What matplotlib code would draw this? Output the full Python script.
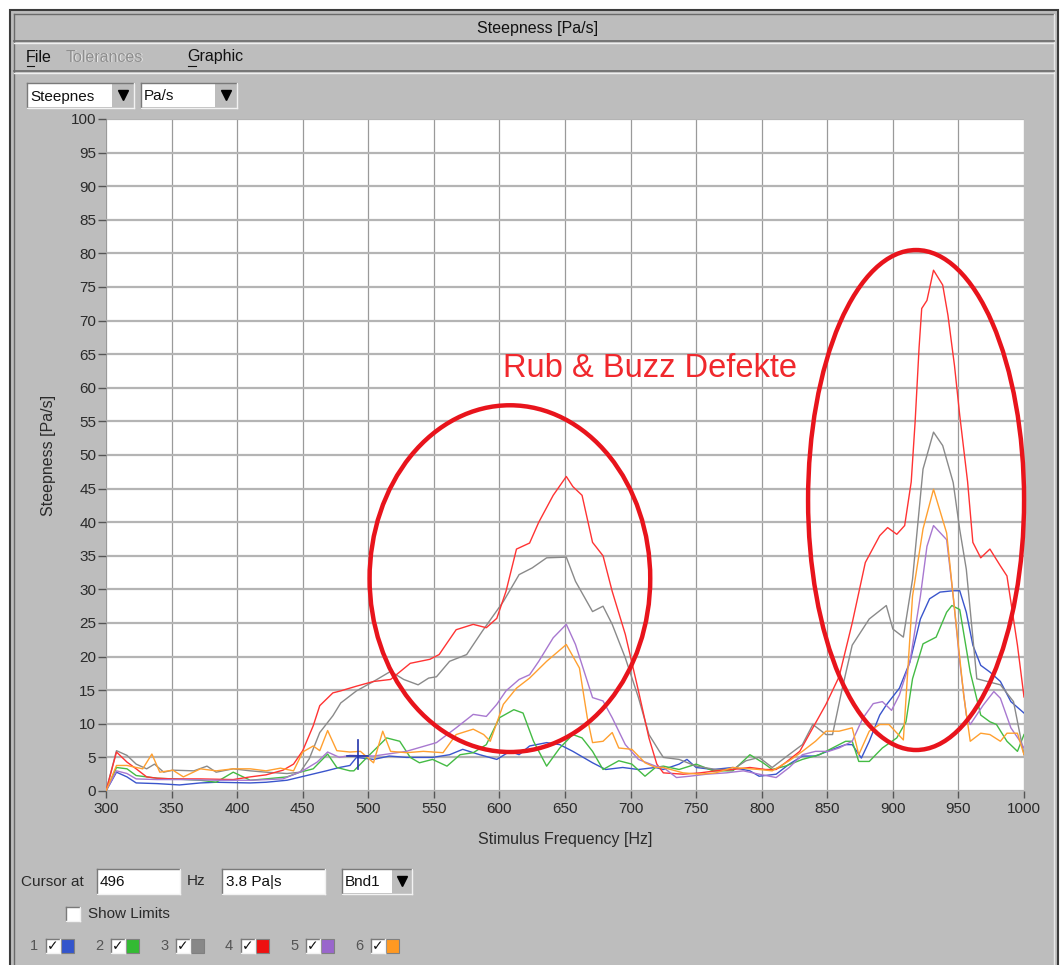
import matplotlib
matplotlib.use('Agg')
import matplotlib.pyplot as plt
from matplotlib.patches import Rectangle, Ellipse
from matplotlib import font_manager
import numpy as np

# Messkurven (Frequenz [Hz], Steepness [Pa/s])
band1_blue = np.array([(300, 0), (308, 2.8), (316, 2.1), (323, 1.2), (339, 1.1), (356, 0.9), (372, 1.2),
    (384, 1.3), (410, 1.2), (422, 1.3), (438, 1.6), (453, 2.3), (468, 3.0), (478, 3.5), (486, 3.8),
    (491, 5.0), (504, 4.7), (516, 5.2), (529, 5.0), (549, 5.0), (562, 5.4), (572, 6.2), (585, 5.4),
    (598, 4.7), (608, 5.9), (615, 5.4), (623, 6.7), (636, 7.2), (646, 6.9), (656, 5.9), (671, 4.2),
    (681, 3.2), (694, 3.5), (706, 3.2), (719, 3.5), (725, 3.2), (737, 4.0), (743, 4.7), (750, 3.5),
    (763, 3.2), (778, 3.5), (791, 3.0), (798, 2.2), (811, 2.5), (821, 4.0), (831, 5.2), (841, 5.2),
    (854, 6.2), (864, 6.9), (869, 6.9), (876, 4.9), (882, 7.4), (890, 11.3), (895, 12.8), (905, 15.3),
    (913, 19.2), (921, 25.6), (928, 28.6), (936, 29.6), (946, 29.8), (951, 29.8), (956, 26.6),
    (961, 21.7), (967, 18.7), (974, 17.7), (982, 16.3), (990, 13.3), (1000, 11.6)])

band2_green = np.array([(300, 0), (308, 3.5), (316, 3.3), (323, 2.3), (331, 2.1), (339, 1.9), (351, 1.8),
    (372, 1.6), (384, 1.3), (397, 2.8), (410, 1.6), (422, 1.8), (438, 2.1), (448, 2.8), (458, 3.3),
    (469, 5.5), (476, 3.5), (486, 3.0), (489, 3.0), (499, 5.0), (514, 7.9), (524, 7.4), (532, 5.0),
    (539, 4.2), (549, 4.7), (560, 3.7), (570, 5.4), (580, 5.7), (590, 6.9), (600, 10.9), (611, 12.1),
    (618, 11.6), (626, 7.4), (636, 3.7), (646, 6.4), (656, 8.4), (663, 7.9), (671, 5.9), (679, 3.2),
    (691, 4.5), (701, 4.0), (711, 2.2), (719, 3.5), (725, 3.7), (737, 3.2), (750, 4.0), (763, 3.0),
    (778, 3.0), (791, 5.4), (801, 4.2), (808, 3.2), (818, 3.7), (831, 4.7), (844, 5.4), (854, 6.4),
    (864, 7.4), (869, 7.4), (874, 4.4), (882, 4.4), (892, 6.4), (903, 7.9), (910, 10.3), (915, 16.7),
    (923, 21.9), (933, 22.9), (941, 26.6), (945, 27.6), (951, 27.0), (959, 17.7), (967, 11.3),
    (974, 10.3), (979, 9.9), (987, 7.4), (995, 5.9), (1000, 8.4)])

band3_gray = np.array([(300, 0), (308, 6.0), (316, 5.3), (323, 4.0), (331, 3.3), (337, 4.0), (344, 2.8),
    (351, 3.1), (367, 3.0), (377, 3.7), (384, 2.8), (397, 3.3), (410, 3.0), (422, 2.8), (438, 2.6),
    (448, 2.8), (455, 4.8), (463, 8.7), (473, 11.2), (479, 13.1), (491, 14.9), (504, 16.3), (517, 17.8),
    (527, 16.6), (538, 15.8), (546, 16.8), (552, 17.0), (562, 19.3), (575, 20.3), (587, 23.8),
    (603, 28.2), (615, 32.2), (625, 33.2), (636, 34.7), (651, 34.8), (658, 31.2), (671, 26.7),
    (679, 27.5), (686, 24.8), (696, 19.8), (706, 13.9), (714, 8.4), (722, 5.9), (725, 5.0), (737, 4.7),
    (750, 3.7), (765, 3.2), (778, 3.2), (788, 4.5), (798, 5.0), (808, 3.5), (818, 5.0), (831, 6.9),
    (839, 9.9), (849, 8.4), (854, 8.4), (861, 14.9), (869, 21.7), (882, 25.6), (895, 27.6), (900, 24.1),
    (908, 22.9), (915, 31.5), (923, 47.9), (931, 53.4), (938, 51.4), (946, 45.9), (951, 38.9),
    (956, 33.0), (964, 16.7), (972, 16.3), (982, 15.8), (992, 13.3), (1000, 5.4)])

band4_red = np.array([(300, 0), (308, 5.8), (316, 4.3), (323, 3.3), (331, 2.1), (339, 1.9), (351, 1.8),
    (372, 1.8), (397, 1.7), (410, 2.1), (422, 2.4), (435, 3.1), (443, 4.0), (450, 6.0), (458, 9.7),
    (463, 12.7), (473, 14.6), (479, 14.9), (491, 15.6), (504, 16.3), (517, 16.6), (532, 19.0),
    (547, 19.6), (554, 20.3), (567, 24.0), (580, 24.8), (590, 24.3), (598, 25.7), (605, 29.7),
    (613, 36.0), (623, 36.9), (630, 40.0), (641, 44.0), (651, 46.8), (656, 45.3), (663, 44.0),
    (671, 37.0), (679, 35.0), (686, 29.7), (696, 23.3), (706, 14.9), (714, 7.9), (720, 4.0), (725, 2.7),
    (740, 2.5), (753, 2.7), (765, 3.0), (778, 3.2), (791, 3.5), (803, 3.2), (811, 3.2), (818, 4.2),
    (829, 5.9), (839, 9.4), (849, 12.9), (859, 17.0), (869, 25.0), (879, 34.0), (890, 38.0),
    (896, 39.2), (903, 38.2), (909, 39.5), (914, 46.0), (917, 55.0), (920, 66.0), (922, 71.8),
    (926, 73.0), (931, 77.5), (938, 75.3), (942, 70.8), (947, 63.3), (951, 55.9), (957, 46.0),
    (961, 37.0), (967, 34.7), (974, 36.0), (982, 33.5), (987, 32.0), (995, 21.7), (1000, 14.0)])

band5_purple = np.array([(300, 0), (308, 3.0), (316, 2.6), (323, 1.8), (339, 1.7), (359, 1.7), (384, 1.6),
    (410, 1.6), (435, 1.8), (450, 3.0), (461, 4.3), (469, 5.8), (478, 5.0), (486, 5.3), (504, 5.2),
    (529, 5.9), (552, 7.2), (567, 9.4), (580, 11.4), (590, 11.1), (598, 12.9), (605, 14.9), (615, 16.6),
    (623, 17.3), (630, 19.3), (641, 22.8), (651, 24.8), (658, 21.8), (671, 13.9), (679, 13.4),
    (686, 10.9), (696, 6.9), (706, 4.7), (719, 3.7), (725, 3.5), (735, 2.0), (745, 2.2), (758, 2.5),
    (773, 2.7), (786, 3.0), (798, 2.5), (811, 2.0), (821, 3.5), (831, 5.4), (841, 5.9), (851, 5.9),
    (859, 6.4), (869, 7.4), (877, 10.8), (885, 13.0), (892, 13.3), (899, 12.0), (905, 14.3),
    (913, 19.2), (921, 29.0), (926, 36.4), (931, 39.5), (941, 37.4), (946, 29.0), (951, 19.2),
    (956, 11.3), (959, 9.9), (969, 12.8), (977, 14.8), (982, 13.8), (990, 9.4), (997, 7.4), (1000, 6.4)])

band6_orange = np.array([(300, 0), (308, 3.8), (316, 3.8), (323, 3.5), (328, 3.3), (335, 5.5), (341, 2.8),
    (351, 3.1), (359, 2.1), (372, 3.3), (384, 3.0), (397, 3.3), (410, 3.3), (422, 3.0), (433, 3.4),
    (443, 3.0), (450, 5.8), (458, 6.7), (463, 6.0), (469, 9.0), (476, 6.0), (486, 5.8), (494, 5.9),
    (504, 4.2), (511, 8.9), (517, 5.9), (529, 5.7), (542, 5.9), (557, 5.7), (567, 8.4), (580, 9.2),
    (588, 8.4), (593, 7.4), (603, 12.9), (613, 15.3), (623, 16.8), (636, 19.3), (651, 21.8),
    (661, 18.3), (667, 10.9), (671, 7.2), (679, 7.4), (686, 8.7), (691, 6.4), (701, 6.2), (711, 4.2),
    (719, 3.5), (725, 3.5), (740, 2.7), (753, 2.5), (765, 2.7), (778, 3.5), (798, 3.2), (808, 3.0),
    (821, 4.5), (831, 5.9), (841, 7.4), (849, 8.9), (859, 8.9), (869, 9.4), (874, 5.4), (882, 8.9),
    (890, 9.9), (897, 9.9), (908, 7.6), (915, 29.0), (923, 39.0), (931, 44.9), (941, 38.4),
    (946, 29.0), (954, 14.3), (959, 7.4), (967, 8.6), (974, 8.4), (982, 7.4), (987, 8.6), (995, 8.6),
    (1000, 5.4)])

bands = [band1_blue, band2_green, band3_gray, band4_red, band5_purple, band6_orange]
line_colors = ['#3a55cc', '#44bb44', '#8a8a8a', '#ff3333', '#a878d0', '#ffa030']
legend_colors = ['#3355cc', '#33bb33', '#888888', '#ee1111', '#9966cc', '#ff9922']

cursor_hz = 492
cursor_range = (3.2, 7.6)

x_ticks = list(range(300, 1001, 50))
y_ticks = list(range(0, 101, 5))

# Markierungen (Ellipsen): Mittelpunkt, Breite, Hoehe in Datenkoordinaten
defect_zones = [((608, 31.6), 214, 51.6), ((917.7, 43.3), 164.7, 74.4)]

# Schriften
names = {f.name for f in font_manager.fontManager.ttflist}
ui_font = 'Liberation Sans' if 'Liberation Sans' in names else 'DejaVu Sans'
num_font = 'Liberation Sans Narrow' if 'Liberation Sans Narrow' in names else ui_font
plt.rcParams['font.family'] = [ui_font, 'DejaVu Sans']

W, H = 1063, 965
fig = plt.figure(figsize=(W / 100, H / 100), dpi=100)
fig.patch.set_facecolor('white')

# Hintergrund fuer die Fenster-Elemente in Pixelkoordinaten
bg = fig.add_axes([0, 0, 1, 1], zorder=0)
bg.set_xlim(0, W)
bg.set_ylim(H, 0)
bg.axis('off')

GRAY = '#bdbdbd'
bg.add_patch(Rectangle((10, 10), 1048, 960, facecolor=GRAY, edgecolor='#3c3c3c', lw=1.5))
bg.plot([14, 14], [14, 965], color='#6a6a6a', lw=1)
bg.plot([14, 1054], [14, 14], color='#6a6a6a', lw=1)
bg.plot([1054, 1054], [14, 965], color='#e8e8e8', lw=1)
bg.plot([14, 1054], [41, 41], color='#6a6a6a', lw=1.2)
bg.plot([14, 1054], [43, 43], color='#f0f0f0', lw=1)
bg.plot([14, 1054], [71, 71], color='#6a6a6a', lw=1.2)
bg.plot([14, 1054], [73, 73], color='#f0f0f0', lw=1)

bg.text(538, 29, 'Steepness [Pa/s]', ha='center', va='center', fontsize=11.5, color='#111111')

# Menue
bg.text(26, 57, 'File', ha='left', va='center', fontsize=11.5, color='#111111')
bg.plot([27, 34], [66, 66], color='#111111', lw=0.8)
bg.text(67, 58, 'Tolerances', ha='left', va='center', fontsize=11.5, color='#ececec')
bg.text(66, 57, 'Tolerances', ha='left', va='center', fontsize=11.5, color='#8e8e8e')
bg.text(187, 57, 'Graphic', ha='left', va='center', fontsize=11.5, color='#111111')
bg.plot([188, 196], [66, 66], color='#111111', lw=0.8)


def sunken(x, y, w, h, face='white'):
    bg.add_patch(Rectangle((x, y), w, h, facecolor=face, edgecolor='none'))
    bg.plot([x, x + w], [y, y], color='#7a7a7a', lw=1)
    bg.plot([x, x], [y, y + h], color='#7a7a7a', lw=1)
    bg.plot([x, x + w], [y + h, y + h], color='#f2f2f2', lw=1)
    bg.plot([x + w, x + w], [y, y + h], color='#f2f2f2', lw=1)


def dropdown(x, y, w, h, label, bw=22):
    sunken(x, y, w + bw, h, face=GRAY)
    bg.add_patch(Rectangle((x + 1, y + 1), w - 1, h - 2, facecolor='white', edgecolor='none'))
    bg.text(x + 3, y + h / 2 + 1, label, ha='left', va='center', fontsize=11, color='#111111')
    bg.plot([x + w + bw / 2], [y + h / 2 - 1], marker='v', color='black', markersize=7, ls='none')


dropdown(27, 83, 85, 25, 'Steepnes')
dropdown(141, 83, 74, 25, 'Pa/s')

# Diagramm
ax = fig.add_axes([106 / W, 1 - 791 / H, 918 / W, 672 / H], zorder=1)
ax.set_facecolor('white')
ax.set_xlim(300, 1000)
ax.set_ylim(0, 100)
ax.set_xticks(x_ticks)
ax.set_yticks(y_ticks)
ax.xaxis.grid(True, color='#9a9a9a', lw=0.9)
ax.yaxis.grid(True, color='#b4b4b4', lw=1.6)
ax.set_axisbelow(True)
for s in ax.spines.values():
    s.set_visible(False)
ax.tick_params(axis='y', direction='out', length=6, width=1, color='#555555', pad=1,
               labelsize=11, labelcolor='#2a2a2a')
ax.tick_params(axis='x', direction='out', length=5, width=1, color='#555555', pad=3,
               labelsize=11, labelcolor='#2a2a2a')
for lab in ax.get_xticklabels() + ax.get_yticklabels():
    lab.set_fontfamily(num_font)

for data, col in zip(bands, line_colors):
    ax.plot(data[:, 0], data[:, 1], color=col, lw=1.0, zorder=3)

# Cursor
ax.plot([cursor_hz, cursor_hz], cursor_range, color='#2233aa', lw=1.2, zorder=4)
ax.plot([cursor_hz - 8, cursor_hz + 8], [5.2, 5.2], color='#2233aa', lw=1.2, zorder=4)

for (cx, cy), ew, eh in defect_zones:
    ax.add_patch(Ellipse((cx, cy), ew, eh, fill=False, edgecolor='#e8141c', lw=3.2,
                         clip_on=False, zorder=5))
ax.text(602.5, 62.9, 'Rub & Buzz Defekte', color='#f0282d', fontsize=23.5,
        ha='left', va='center', zorder=6)

ax.set_xlabel('Stimulus Frequency [Hz]', fontsize=11.5, color='#2a2a2a')
ax.xaxis.set_label_coords(0.5, -(832 - 791) / 672)
ax.set_ylabel('Steepness [Pa/s]', fontsize=11.5, color='#2a2a2a')
ax.yaxis.set_label_coords(-(106 - 56) / 918, 0.5)

# Cursor-Zeile unten
bg.text(21, 882, 'Cursor at', ha='left', va='center', fontsize=11, color='#2a2a2a')
sunken(97, 869, 83, 25)
bg.text(100, 882, '496', ha='left', va='center', fontsize=11, color='#111111')
bg.text(187, 881, 'Hz', ha='left', va='center', fontsize=11, color='#2a2a2a')
sunken(222, 869, 103, 25)
bg.text(226, 882, '3.8 Pa|s', ha='left', va='center', fontsize=11, color='#111111')
dropdown(342, 869, 50, 25, 'Bnd1', bw=20)

# Show Limits
sunken(66, 907, 14, 14)
bg.text(88, 914, 'Show Limits', ha='left', va='center', fontsize=11, color='#2a2a2a')

# Kanal-Legende
for i, col in enumerate(legend_colors):
    x0 = 30 + i * 65
    bg.text(x0, 946, str(i + 1), ha='left', va='center', fontsize=10.5, color='#555555')
    sunken(x0 + 16, 939, 14, 14)
    bg.text(x0 + 23, 946, '\u2713', ha='center', va='center', fontsize=10, color='#111111',
            family=['DejaVu Sans'])
    bg.add_patch(Rectangle((x0 + 31, 939), 13, 14, facecolor=col, edgecolor='#808080', lw=0.8))

fig.savefig('out.png', dpi=100, facecolor=fig.get_facecolor())
